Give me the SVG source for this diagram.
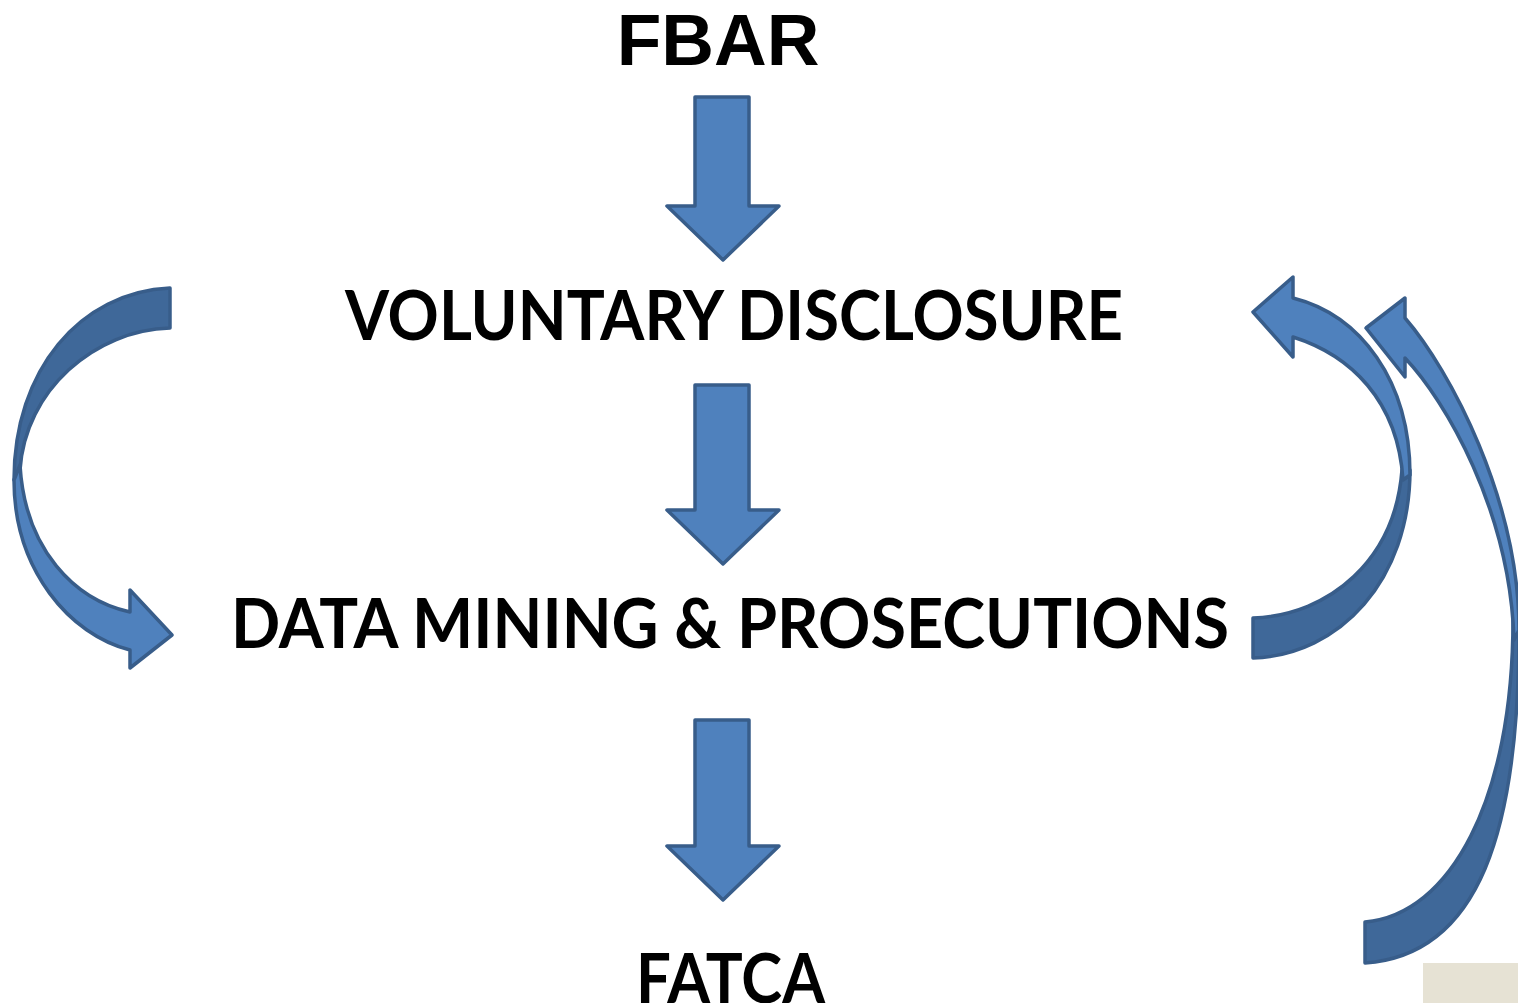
<svg xmlns="http://www.w3.org/2000/svg" width="1518" height="1003" viewBox="0 0 1518 1003">
<style>
.t{font-family:Lato,"Open Sans","Liberation Sans",sans-serif;font-weight:bold;font-size:68px;fill:#000}
.a{font-family:"Liberation Sans",Arial,sans-serif;font-weight:bold;font-size:73px;fill:#000}
.lt{fill:#4F81BD;stroke:#385D8A;stroke-width:3.5;stroke-linejoin:round}
.dk{fill:#3F6899;stroke:#385D8A;stroke-width:3.5;stroke-linejoin:round}
</style>
<rect width="1518" height="1003" fill="#fff"/>
<g id="fbar"><text class="a" x="718" y="65" text-anchor="middle">FBAR</text></g>
<g id="voluntary-disclosure"><text class="t" x="345" y="340" textLength="778" lengthAdjust="spacingAndGlyphs">VOLUNTARY DISCLOSURE</text></g>
<g id="data-mining"><text class="t" x="231" y="648" textLength="998" lengthAdjust="spacingAndGlyphs">DATA MINING &amp; PROSECUTIONS</text></g>
<g id="fatca"><text class="t" x="636" y="1003" textLength="189" lengthAdjust="spacingAndGlyphs">FATCA</text></g>
<g id="connectors">
<polygon class="lt" points="695,97 749,97 749,206 779,206 723,260 667,206 695,206"/>
<polygon class="lt" points="695,385 749,385 749,510 779,510 723,564 667,510 695,510"/>
<polygon class="lt" points="695,720 749,720 749,846 779,846 723,900 667,846 695,846"/>
<path class="dk" d="M170,288 C80,292 14,370 14,480 L20,470 C25,390 95,330 170,328 Z"/>
<path class="lt" d="M14,480 C14,570 70,635 130,650 L130,668 L172,635 L130,590 L130,612 C75,600 25,550 20,465 Z"/>
<path class="dk" d="M1410,470 C1410,580 1340,655 1253,658 L1253,618 C1330,615 1395,560 1402,470 Z"/>
<path class="lt" d="M1293,298 C1360,315 1410,380 1410,475 L1403,480 C1398,400 1350,355 1293,337 L1293,357 L1253,312 L1293,277 Z"/>
<path class="dk" d="M1519,630 C1519,830 1480,955 1365,963 L1365,922 C1450,915 1513,800 1513,620 Z"/>
<path class="lt" d="M1405,318 C1450,370 1519,500 1519,630 L1514,640 C1510,510 1445,400 1405,358 L1405,377 L1366,328 L1405,298 Z"/>
</g>
<rect x="1423" y="963" width="95" height="40" fill="#E6E2D4"/>
</svg>
